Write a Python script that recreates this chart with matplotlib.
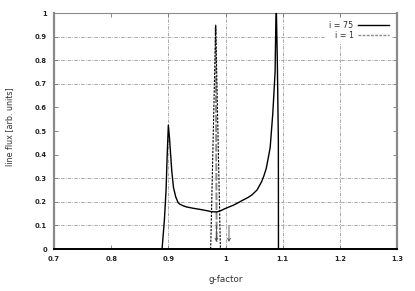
import numpy as np
import matplotlib
matplotlib.use("Agg")
import matplotlib.pyplot as plt
from matplotlib.lines import Line2D

# i = 75 curve
g75 = [0.889, 0.893, 0.896, 0.898, 0.900, 0.902, 0.904, 0.906, 0.909, 0.913, 0.917,
       0.920, 0.926, 0.932, 0.945, 0.955, 0.966, 0.976, 0.985, 0.992, 0.999, 1.006,
       1.014, 1.022, 1.031, 1.039, 1.046, 1.055, 1.063, 1.067, 1.071, 1.075, 1.078,
       1.0826, 1.0866, 1.0885, 1.0905, 1.0923, 1.0925]
v75 = [0.0, 0.12, 0.25, 0.40, 0.525, 0.47, 0.40, 0.33, 0.26, 0.22, 0.197,
       0.19, 0.183, 0.178, 0.172, 0.168, 0.163, 0.158, 0.157, 0.163, 0.171, 0.178,
       0.186, 0.196, 0.208, 0.218, 0.229, 0.25, 0.285, 0.31, 0.34, 0.39, 0.43,
       0.575, 0.75, 1.05, 0.8, 0.46, 0.0]

# i = 1 spike
g1 = [0.974, 0.9828, 0.991]
v1 = [0.0, 0.949, 0.0]
g1_inner = [0.9826, 0.9845]
v1_inner = [0.94, 0.03]

# arrow markers
arrow_g = [0.984, 1.006]
arrow_top = [0.10, 0.097]
arrow_bot = [0.03, 0.03]

xticks = [0.7, 0.8, 0.9, 1.0, 1.1, 1.2, 1.3]
xlabels = ["0.7", "0.8", "0.9", "1", "1.1", "1.2", "1.3"]
yticks = [0, 0.1, 0.2, 0.3, 0.4, 0.5, 0.6, 0.7, 0.8, 0.9, 1.0]
ylabels = ["0", "0.1", "0.2", "0.3", "0.4", "0.5", "0.6", "0.7", "0.8", "0.9", "1"]
xgrid = [0.9, 1.0, 1.1, 1.2]
ygrid = [0.1, 0.2, 0.3, 0.7, 0.8, 0.9]

fig = plt.figure(figsize=(4.15, 2.91), dpi=100)
ax = fig.add_axes([0.130, 0.1443, 0.827, 0.811])

gridkw = dict(color="#9a9a9a", lw=0.6, ls=(0, (4, 1.5, 1, 1.5)), zorder=1)
for x in xgrid:
    ax.axvline(x, **gridkw)
for y in ygrid:
    ax.axhline(y, **gridkw)

ax.plot(g75, v75, color="black", lw=1.0, zorder=3)
ax.plot(g1, v1, color="black", lw=0.8, ls=(0, (2, 1.2)), zorder=3)
ax.plot(g1_inner, v1_inner, color="#8a8a8a", lw=1.4, ls=(0, (4, 1)), zorder=2)
for xa, ya, yb in zip(arrow_g, arrow_top, arrow_bot):
    ax.annotate("", xy=(xa, yb), xytext=(xa, ya),
                arrowprops=dict(arrowstyle="->", color="#444444", lw=0.6,
                                mutation_scale=5, shrinkA=0, shrinkB=0))

ax.set_xlim(0.7, 1.3)
ax.set_ylim(0, 1)
ax.set_xticks(xticks)
ax.set_xticklabels(xlabels)
ax.set_yticks(yticks)
ax.set_yticklabels(ylabels)
ax.tick_params(direction="in", length=3, width=0.6, color="#777777",
               top=True, right=True, labelsize=4.9, labelcolor="#222222", pad=5)
for lab in ax.get_xticklabels() + ax.get_yticklabels():
    lab.set_fontweight("bold")

for side in ["left", "right", "top"]:
    ax.spines[side].set_color("#8a8a8a")
ax.spines["left"].set_linewidth(1.6)
ax.spines["right"].set_linewidth(1.6)
ax.spines["top"].set_linewidth(0.8)
ax.spines["bottom"].set_color("black")
ax.spines["bottom"].set_linewidth(1.4)

ax.set_xlabel("g-factor", fontsize=6.3, color="#333333")
ax.xaxis.set_label_coords(0.5, -0.11)
ax.set_ylabel("line flux [arb. units]", fontsize=5.8, color="#333333")
ax.yaxis.set_label_coords(-0.115, 0.52)

handles = [Line2D([], [], color="black", lw=1.0),
           Line2D([], [], color="#8a8a8a", lw=1.0, ls=(0, (2, 1)))]
leg = ax.legend(handles, ["i = 75", "i = 1"], loc="upper right", markerfirst=False,
                fontsize=5.8, frameon=True, fancybox=False, borderpad=0.4,
                handlelength=3.8, handletextpad=0.6, labelspacing=0.15,
                borderaxespad=0.6)
leg.get_frame().set_edgecolor("none")
leg.get_frame().set_facecolor("white")
leg.get_frame().set_alpha(1)
for t in leg.get_texts():
    t.set_ha("right")
    t.set_color("#333333")

fig.savefig("out.png", dpi=100)
